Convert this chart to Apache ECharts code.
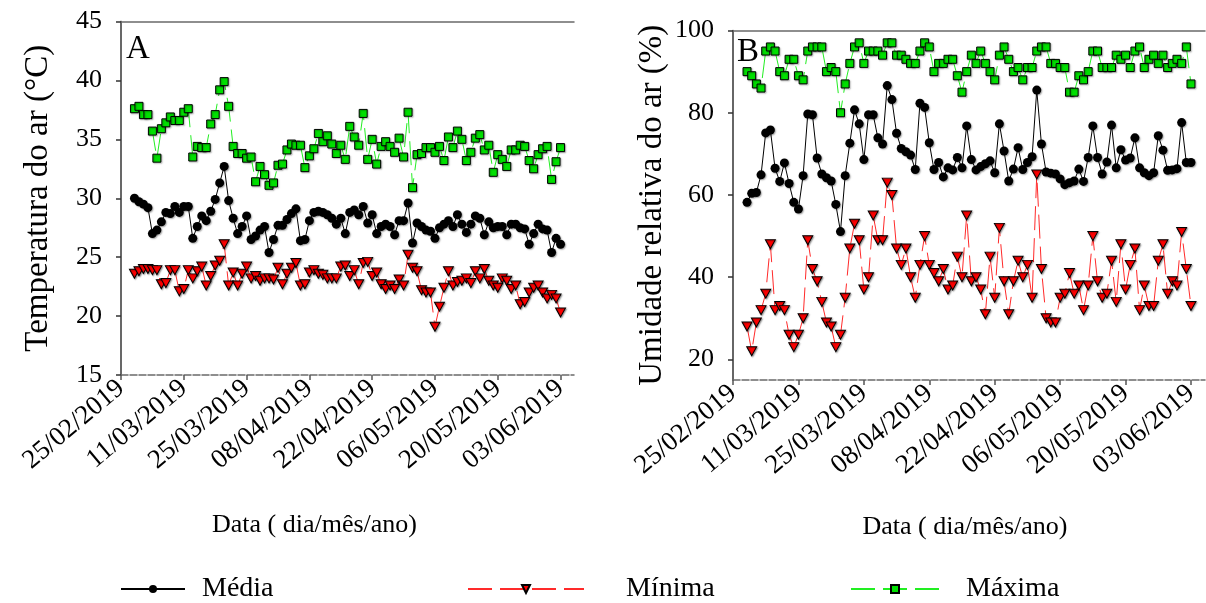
<!DOCTYPE html>
<html>
<head>
<meta charset="utf-8">
<script src="https://cdn.jsdelivr.net/npm/echarts@6/dist/echarts.min.js"></script>
<style>
  html, body { margin: 0; padding: 0; background: #fff; }
  #chart { width: 1206px; height: 603px; }
</style>
</head>
<body>
<div id="chart"></div>
<script>
// Tick labels of the date axis (one every 14 days from 25/02/2019)
const dateTicks = ['25/02/2019', '11/03/2019', '25/03/2019', '08/04/2019',
                   '22/04/2019', '06/05/2019', '20/05/2019', '03/06/2019'];
// Daily readings start on 28/02/2019, i.e. day 3 counted from 25/02/2019
const firstDay = 3;

// Air temperature (°C)
const tempMedia = [30.0, 29.7, 29.5, 29.2, 27.0, 27.3, 28.0, 28.8, 28.7, 29.3,
  28.8, 29.3, 29.3, 26.6, 27.6, 28.5, 28.1, 28.9, 29.9, 31.3,
  32.7, 29.8, 28.3, 27.0, 27.6, 28.5, 26.5, 26.8, 27.3, 27.6,
  25.4, 26.5, 27.7, 27.7, 28.2, 28.7, 29.1, 26.4, 26.5, 28.1,
  28.8, 28.9, 28.8, 28.6, 28.3, 27.8, 28.3, 27.0, 28.8,
  29.0, 28.6, 29.3, 27.9, 28.6, 27.0, 27.6, 27.8, 27.6, 26.9,
  28.1, 28.1, 29.6, 26.2, 27.9, 27.6, 27.3, 27.2, 26.6, 27.5,
  27.8, 28.1, 27.6, 28.6, 27.8, 27.1, 27.8, 28.5, 28.3, 26.9,
  28.0, 27.5, 27.6, 27.6, 26.9, 27.8, 27.8, 27.5, 27.4, 26.1,
  27.0, 27.8, 27.4, 27.3, 25.4, 26.6, 26.1];
const tempMin = [23.6, 23.8, 24.0, 24.0, 23.9, 23.9, 22.7, 22.8, 23.9, 23.9,
  22.1, 22.3, 23.9, 23.2, 23.8, 24.2, 22.6, 23.4, 24.3, 24.7,
  26.1, 22.6, 23.7, 22.6, 23.6, 24.2, 23.2, 23.4, 23.0, 23.2,
  23.2, 23.1, 24.1, 22.7, 23.6, 24.1, 24.5, 22.6, 22.7, 23.7,
  23.9, 23.6, 23.5, 23.2, 23.2, 23.2, 24.2, 24.3, 23.4,
  23.9, 22.7, 24.5, 24.6, 23.4, 23.7, 22.7, 22.3, 22.6, 22.3,
  23.1, 22.6, 25.2, 24.1, 23.8, 22.2, 22.0, 22.0, 19.1, 20.8,
  22.4, 23.8, 22.6, 22.9, 23.0, 23.2, 22.8, 23.8, 23.2, 24.0,
  23.0, 22.6, 22.4, 23.2, 23.0, 22.3, 22.6, 21.0, 21.2, 22.0,
  22.4, 22.6, 22.0, 21.5, 21.8, 21.5, 20.3];
const tempMax = [37.6, 37.8, 37.1, 37.1, 35.7, 33.4, 35.9, 36.4, 36.9, 36.6,
  36.6, 37.3, 37.6, 33.5, 34.4, 34.3, 34.3, 36.3, 37.1, 39.2,
  39.9, 37.8, 34.4, 33.8, 33.8, 33.4, 33.5, 31.4, 32.7, 32.0,
  31.1, 31.3, 32.8, 32.9, 34.1, 34.6, 34.5, 34.5, 32.6, 33.6,
  34.2, 35.5, 34.8, 35.3, 34.6, 33.8, 34.5, 33.3, 36.1,
  35.2, 34.5, 37.2, 33.3, 35.0, 32.9, 34.4, 34.8, 34.4, 33.9,
  35.1, 33.5, 37.3, 30.9, 33.7, 33.8, 34.3, 34.3, 33.9, 34.4,
  33.2, 35.2, 34.3, 35.7, 35.0, 33.2, 33.9, 35.1, 35.4, 34.1,
  34.5, 32.2, 33.7, 33.3, 32.7, 34.1, 34.1, 34.5, 34.4, 33.2,
  32.5, 33.7, 34.2, 34.4, 31.6, 33.1, 34.3];

// Relative air humidity (%)
const urMedia = [58.2, 60.4, 60.6, 64.9, 75.1, 75.8, 66.5, 63.3, 67.8, 62.8,
  58.2, 56.6, 64.7, 79.7, 79.5, 69.0, 65.1, 64.2, 63.4, 57.7,
  51.1, 64.7, 72.6, 80.7, 77.3, 68.6, 79.5, 79.5, 73.9, 72.4,
  86.6, 83.2, 75.0, 71.3, 70.5, 69.7, 66.2, 82.3, 81.3, 72.7,
  66.2, 67.9, 64.4, 66.6,
  66.1, 69.1, 66.6, 76.8, 68.6, 66.1, 66.9, 67.6, 68.3, 65.4,
  77.3, 70.7, 63.4, 66.3, 71.5, 66.2, 67.9, 69.3, 85.5, 72.4,
  65.6, 65.3, 65.1, 63.9, 62.5, 63.0, 63.4, 66.3, 63.3, 69.1,
  76.8, 69.1, 65.1, 68.0, 77.0, 66.6, 71.0, 68.5, 69.0, 73.9,
  66.6, 65.4, 64.7, 65.4, 74.4, 70.9, 66.0, 66.1, 66.4, 77.6,
  67.9, 67.9];
const urMin = [28, 22, 29, 32, 36, 48, 32, 33, 32, 26,
  23, 26, 30, 49, 42, 39, 34, 29, 28, 23,
  26, 35, 47, 53, 49, 37, 40, 55, 49, 49,
  63, 60, 47, 43, 47, 40, 35, 43, 50, 43,
  41, 39, 42, 37,
  38, 45, 40, 55, 39, 40, 37, 31, 45, 35,
  52, 39, 31, 39, 44, 40, 43, 35, 65, 42,
  30, 29, 29, 35, 36, 41, 36, 38, 32, 38,
  50, 39, 35, 36, 44, 34, 48, 37, 43, 47,
  32, 38, 33, 33, 44, 48, 36, 39, 38, 51,
  42, 33];
const urMax = [90, 89, 87, 86, 95, 96, 95, 90, 89, 93,
  93, 89, 88, 95, 96, 96, 96, 90, 91, 90,
  80, 87, 92, 96, 97, 92, 95, 95, 95, 94,
  97, 97, 94, 94, 93, 92, 92, 95, 97, 96,
  90, 92, 92, 93,
  93, 89, 85, 90, 94, 92, 95, 92, 90, 88,
  94, 96, 93, 90, 91, 88, 91, 91, 95, 96,
  96, 92, 92, 91, 91, 85, 85, 89, 88, 90,
  95, 95, 91, 91, 91, 94, 93, 94, 91, 95,
  96, 91, 93, 94, 92, 94, 91, 92, 93, 92,
  96, 87];

const seriesNames = ['Média', 'Mínima', 'Máxima'];
const dayTicks = dateTicks.map((_, i) => i * 14);
const urTicks = [20, 40, 60, 80, 100];

const FONT = "'Liberation Serif', 'Times New Roman', Times, serif";
const pairs = vals => vals.map((v, i) => [firstDay + i, v]);

const markShadow = { shadowColor: 'rgba(0,0,0,0.35)', shadowBlur: 1.5, shadowOffsetX: 1, shadowOffsetY: 1 };
const styles = {
  'Média': {
    symbol: 'circle', symbolSize: 9,
    itemStyle: Object.assign({ color: '#000' }, markShadow),
    lineStyle: { color: '#000', width: 1 }
  },
  'Mínima': {
    symbol: 'triangle', symbolRotate: 180, symbolSize: [10, 9],
    itemStyle: Object.assign({ color: '#ff0000', borderColor: '#000', borderWidth: 1 }, markShadow),
    lineStyle: { color: '#ff2a2a', width: 1, type: [24, 8] }
  },
  'Máxima': {
    symbol: 'rect', symbolSize: 8,
    itemStyle: Object.assign({ color: '#00e000', borderColor: '#000', borderWidth: 1 }, markShadow),
    lineStyle: { color: '#22ee22', width: 1, type: [24, 8] }
  }
};

function makeSeries(name, vals, axisIdx) {
  return Object.assign({
    name: name, type: 'line', data: pairs(vals),
    xAxisIndex: axisIdx, yAxisIndex: axisIdx,
    showAllSymbol: true, animation: false, z: 3
  }, styles[name]);
}

const dateLabel = v => {
  const k = Math.round(v / 14);
  return (Math.abs(v - k * 14) < 1e-6 && dateTicks[k]) ? dateTicks[k] : '';
};

function dateAxis(gridIndex, nameGap, namePad) {
  return {
    type: 'value', gridIndex: gridIndex, position: 'bottom',
    min: 0, max: 101, interval: 14,
    name: 'Data ( dia/mês/ano)', nameLocation: 'middle', nameGap: nameGap,
    nameTextStyle: { fontFamily: FONT, fontSize: 26, color: '#000', padding: namePad },
    axisLine: { show: true, onZero: false, lineStyle: { color: '#6a6a6a', width: 1.5, type: [7, 2] } },
    axisTick: { show: true, inside: false, length: 5, customValues: dayTicks, lineStyle: { color: '#555', width: 1.5 } },
    axisLabel: { show: true, rotate: 40, margin: 10, customValues: dayTicks, formatter: dateLabel,
                 fontFamily: FONT, fontSize: 27, color: '#000' },
    splitLine: { show: false }
  };
}
function frameX(gridIndex) {
  return {
    type: 'value', gridIndex: gridIndex, position: 'top', min: 0, max: 101,
    axisLine: { show: true, lineStyle: { color: '#6a6a6a', width: 1.5 } },
    axisTick: { show: false }, axisLabel: { show: false }, splitLine: { show: false }
  };
}

const legendText = pad => ({ fontFamily: FONT, fontSize: 28, color: '#000', padding: [0, 0, 0, pad] });

const option = {
  backgroundColor: '#fff',
  animation: false,
  textStyle: { fontFamily: FONT },
  title: [
    { text: 'A', left: 126, top: 33, padding: 0, textStyle: { fontFamily: FONT, fontSize: 33, fontWeight: 'normal', color: '#000' } },
    { text: 'B', left: 737, top: 36, padding: 0, textStyle: { fontFamily: FONT, fontSize: 33, fontWeight: 'normal', color: '#000' } }
  ],
  grid: [
    { left: 121, top: 21.5, width: 453, height: 353.5, containLabel: false },
    { left: 733, top: 30.5, width: 472, height: 349.5, containLabel: false }
  ],
  xAxis: [dateAxis(0, 137, [0, 66, 0, 0]), dateAxis(1, 134, [0, 8, 0, 0]), frameX(0), frameX(1)],
  yAxis: [
    {
      type: 'value', gridIndex: 0, min: 15, max: 45, interval: 5,
      name: 'Temperatura do ar (°C)', nameLocation: 'middle', nameGap: 66,
      nameTextStyle: { fontFamily: FONT, fontSize: 33, color: '#000' },
      axisLine: { show: true, lineStyle: { color: '#333', width: 1.5 } },
      axisTick: { show: true, length: 5, lineStyle: { color: '#333', width: 1.5 } },
      axisLabel: { margin: 19, fontFamily: FONT, fontSize: 26, color: '#000' },
      splitLine: { show: false }
    },
    {
      type: 'value', gridIndex: 1, min: 15, max: 100,
      name: 'Umidade relativa do ar (%)', nameLocation: 'middle', nameGap: 64,
      nameTextStyle: { fontFamily: FONT, fontSize: 33, color: '#000' },
      axisLine: { show: true, lineStyle: { color: '#333', width: 1.5 } },
      axisTick: { show: true, length: 5, customValues: urTicks, lineStyle: { color: '#333', width: 1.5 } },
      axisLabel: { margin: 19, customValues: urTicks, fontFamily: FONT, fontSize: 26, color: '#000' },
      splitLine: { show: false }
    },
    {
      type: 'value', gridIndex: 0, position: 'right', min: 15, max: 45,
      axisLine: { show: true, lineStyle: { color: '#6a6a6a', width: 1.5 } },
      axisTick: { show: false }, axisLabel: { show: false }, splitLine: { show: false }
    }
  ],
  legend: [
    { data: [seriesNames[0]], left: 120, top: 575, padding: 0, itemWidth: 64, itemHeight: 10, textStyle: legendText(12) },
    { data: [seriesNames[1]], left: 467, top: 575, padding: 0, itemWidth: 116, itemHeight: 10, textStyle: legendText(37) },
    { data: [seriesNames[2]], left: 850, top: 575, padding: 0, itemWidth: 88, itemHeight: 10, textStyle: legendText(22) }
  ],
  series: [
    makeSeries(seriesNames[0], tempMedia, 0),
    makeSeries(seriesNames[1], tempMin, 0),
    makeSeries(seriesNames[2], tempMax, 0),
    makeSeries(seriesNames[0], urMedia, 1),
    makeSeries(seriesNames[1], urMin, 1),
    makeSeries(seriesNames[2], urMax, 1)
  ]
};

const chart = echarts.init(document.getElementById('chart'), null, { renderer: 'canvas' });
chart.setOption(option);
</script>
</body>
</html>
